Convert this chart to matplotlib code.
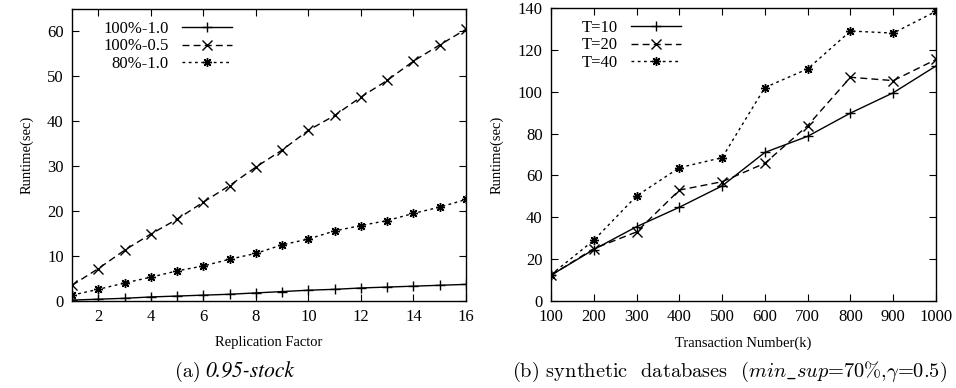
import matplotlib
matplotlib.use("Agg")
import matplotlib.pyplot as plt

plt.rcParams['font.family'] = 'Liberation Serif'
plt.rcParams['mathtext.fontset'] = 'cm'

# (a) 0.95-stock
replication = list(range(1, 17))
rt_100_10 = [0.2, 0.4, 0.6, 0.9, 1.1, 1.3, 1.5, 1.8, 2.1, 2.4, 2.6, 2.9, 3.1, 3.3, 3.5, 3.7]
rt_100_05 = [3.5, 7.2, 11.3, 14.9, 18.2, 22.0, 25.7, 29.8, 33.6, 38.0, 41.3, 45.4, 49.1, 53.4, 57.0, 60.5]
rt_80_10 = [1.3, 2.6, 4.0, 5.3, 6.7, 7.8, 9.3, 10.6, 12.5, 13.8, 15.6, 16.8, 17.9, 19.5, 20.9, 22.6]
labels_a = ['100%-1.0', '100%-0.5', '80%-1.0']

# (b) synthetic databases
transactions = [100, 200, 300, 400, 500, 600, 700, 800, 900, 1000]
rt_t10 = [12.3, 24.6, 35.5, 44.8, 55.0, 71.0, 78.7, 89.8, 99.5, 112.3]
rt_t20 = [12.3, 25.0, 33.0, 53.0, 57.0, 65.8, 83.8, 106.9, 105.3, 115.4]
rt_t40 = [12.6, 29.0, 50.2, 63.7, 68.5, 102.0, 110.9, 129.0, 128.0, 138.4]
labels_b = ['T=10', 'T=20', 'T=40']

styles = [
    dict(linestyle='-', marker='+'),
    dict(linestyle=(0, (5, 3)), marker='x'),
    dict(linestyle=(0, (2, 2.5)), marker=(8, 2, 0)),
]

fig = plt.figure(figsize=(9.56, 3.88), dpi=100)
ax1 = fig.add_axes([72 / 956, 87 / 388, 394 / 956, 292 / 388])
ax2 = fig.add_axes([551 / 956, 87 / 388, 385 / 956, 293 / 388])


def draw(ax, x, series, labels):
    for ys, lab, st in zip(series, labels, styles):
        ax.plot(x, ys, color='black', lw=1.0, ms=6.5, mew=1.0, label=lab, **st)
    ax.tick_params(direction='in', top=True, right=True, length=5, labelsize=12, pad=6)
    for s in ax.spines.values():
        s.set_linewidth(1.0)
    ax.set_ylabel('Runtime(sec)', fontsize=10.5, labelpad=10)
    leg = ax.legend(loc='upper left', frameon=False, markerfirst=False, fontsize=12,
                    handlelength=3.0, handletextpad=0.8, labelspacing=0.1,
                    borderaxespad=0.3, bbox_to_anchor=(0.05, 1.0))
    return leg


draw(ax1, replication, [rt_100_10, rt_100_05, rt_80_10], labels_a)
ax1.set_xlim(1, 16)
ax1.set_ylim(0, 65)
ax1.set_xticks(range(2, 17, 2))
ax1.set_yticks(range(0, 61, 10))
ax1.set_xlabel('Replication Factor', fontsize=10.5, labelpad=8)

draw(ax2, transactions, [rt_t10, rt_t20, rt_t40], labels_b)
ax2.set_xlim(100, 1000)
ax2.set_ylim(0, 140)
ax2.set_xticks(transactions)
ax2.set_yticks(range(0, 141, 20))
ax2.set_xlabel('Transaction Number(k)', fontsize=10.5, labelpad=8)

# captions
cy = 16 / 388
fig.text(175 / 956, cy, '(a)', ha='left', va='center', fontsize=14.5, family='cmr10')
fig.text(205 / 956, cy, '0.95-stock', ha='left', va='center',
         fontsize=15.5, family='STIXGeneral', style='italic')
fig.text(512 / 956, cy, r'(b) synthetic  databases  ($min\_sup$=70%,$\gamma$=0.5)',
         ha='left', va='center', fontsize=14.7, family='cmr10')

fig.savefig('out.png', dpi=100)
